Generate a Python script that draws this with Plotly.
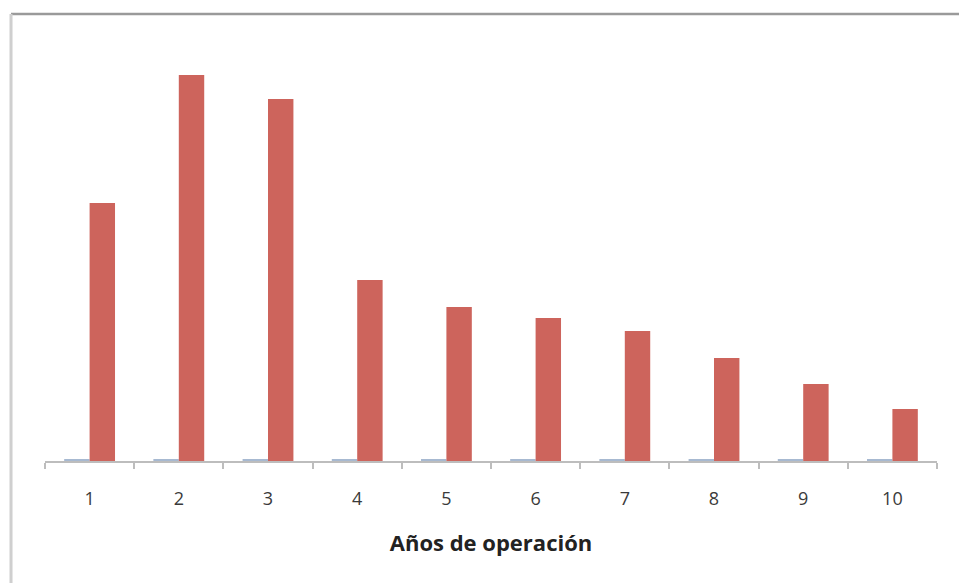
import plotly.graph_objects as go

# Years of operation and the two series plotted for each year
anios = ["1", "2", "3", "4", "5", "6", "7", "8", "9", "10"]
serie_azul = [1.5, 1.5, 1.5, 1.5, 1.5, 1.5, 1.5, 1.5, 1.5, 1.5]
serie_roja = [258, 386, 362, 181, 154, 143, 130, 103, 77, 52]

fig = go.Figure()
fig.add_trace(go.Bar(x=anios, y=serie_azul, marker=dict(color="#A7B9D1", line=dict(width=0)),
                     name="Serie 1"))
fig.add_trace(go.Bar(x=anios, y=serie_roja, marker=dict(color="#CD645C", line=dict(width=0)),
                     name="Serie 2"))

# Frame lines around the chart (top and left edges)
fig.add_shape(type="line", xref="paper", yref="paper",
              x0=-0.0381, x1=1.03, y0=1.0182, y1=1.0182,
              line=dict(color="#9A9A9A", width=2.5))
fig.add_shape(type="line", xref="paper", yref="paper",
              x0=-0.0381, x1=-0.0381, y0=1.0182, y1=-0.3,
              line=dict(color="#CFCFCF", width=3))

fig.update_layout(
    width=959, height=583,
    margin=dict(l=45, r=22, t=22, b=122),
    paper_bgcolor="white", plot_bgcolor="white",
    barmode="group", bargap=0.43, bargroupgap=0,
    showlegend=False,
    font=dict(family="Open Sans, sans-serif", color="#333333"),
    xaxis=dict(
        type="category",
        showline=True, linecolor="#BDBDBD", linewidth=2,
        ticks="outside", tickson="boundaries", ticklen=6, tickcolor="#BDBDBD", tickwidth=2,
        tickfont=dict(size=18, color="#3A3A3A"), ticklabelstandoff=20,
        title=dict(text="<b>Años de operación</b>", font=dict(size=22, color="#222222"), standoff=27),
        showgrid=False, zeroline=False,
    ),
    yaxis=dict(
        range=[0, 439], visible=False, showgrid=False, zeroline=False,
    ),
)

fig.write_html("out.html")
